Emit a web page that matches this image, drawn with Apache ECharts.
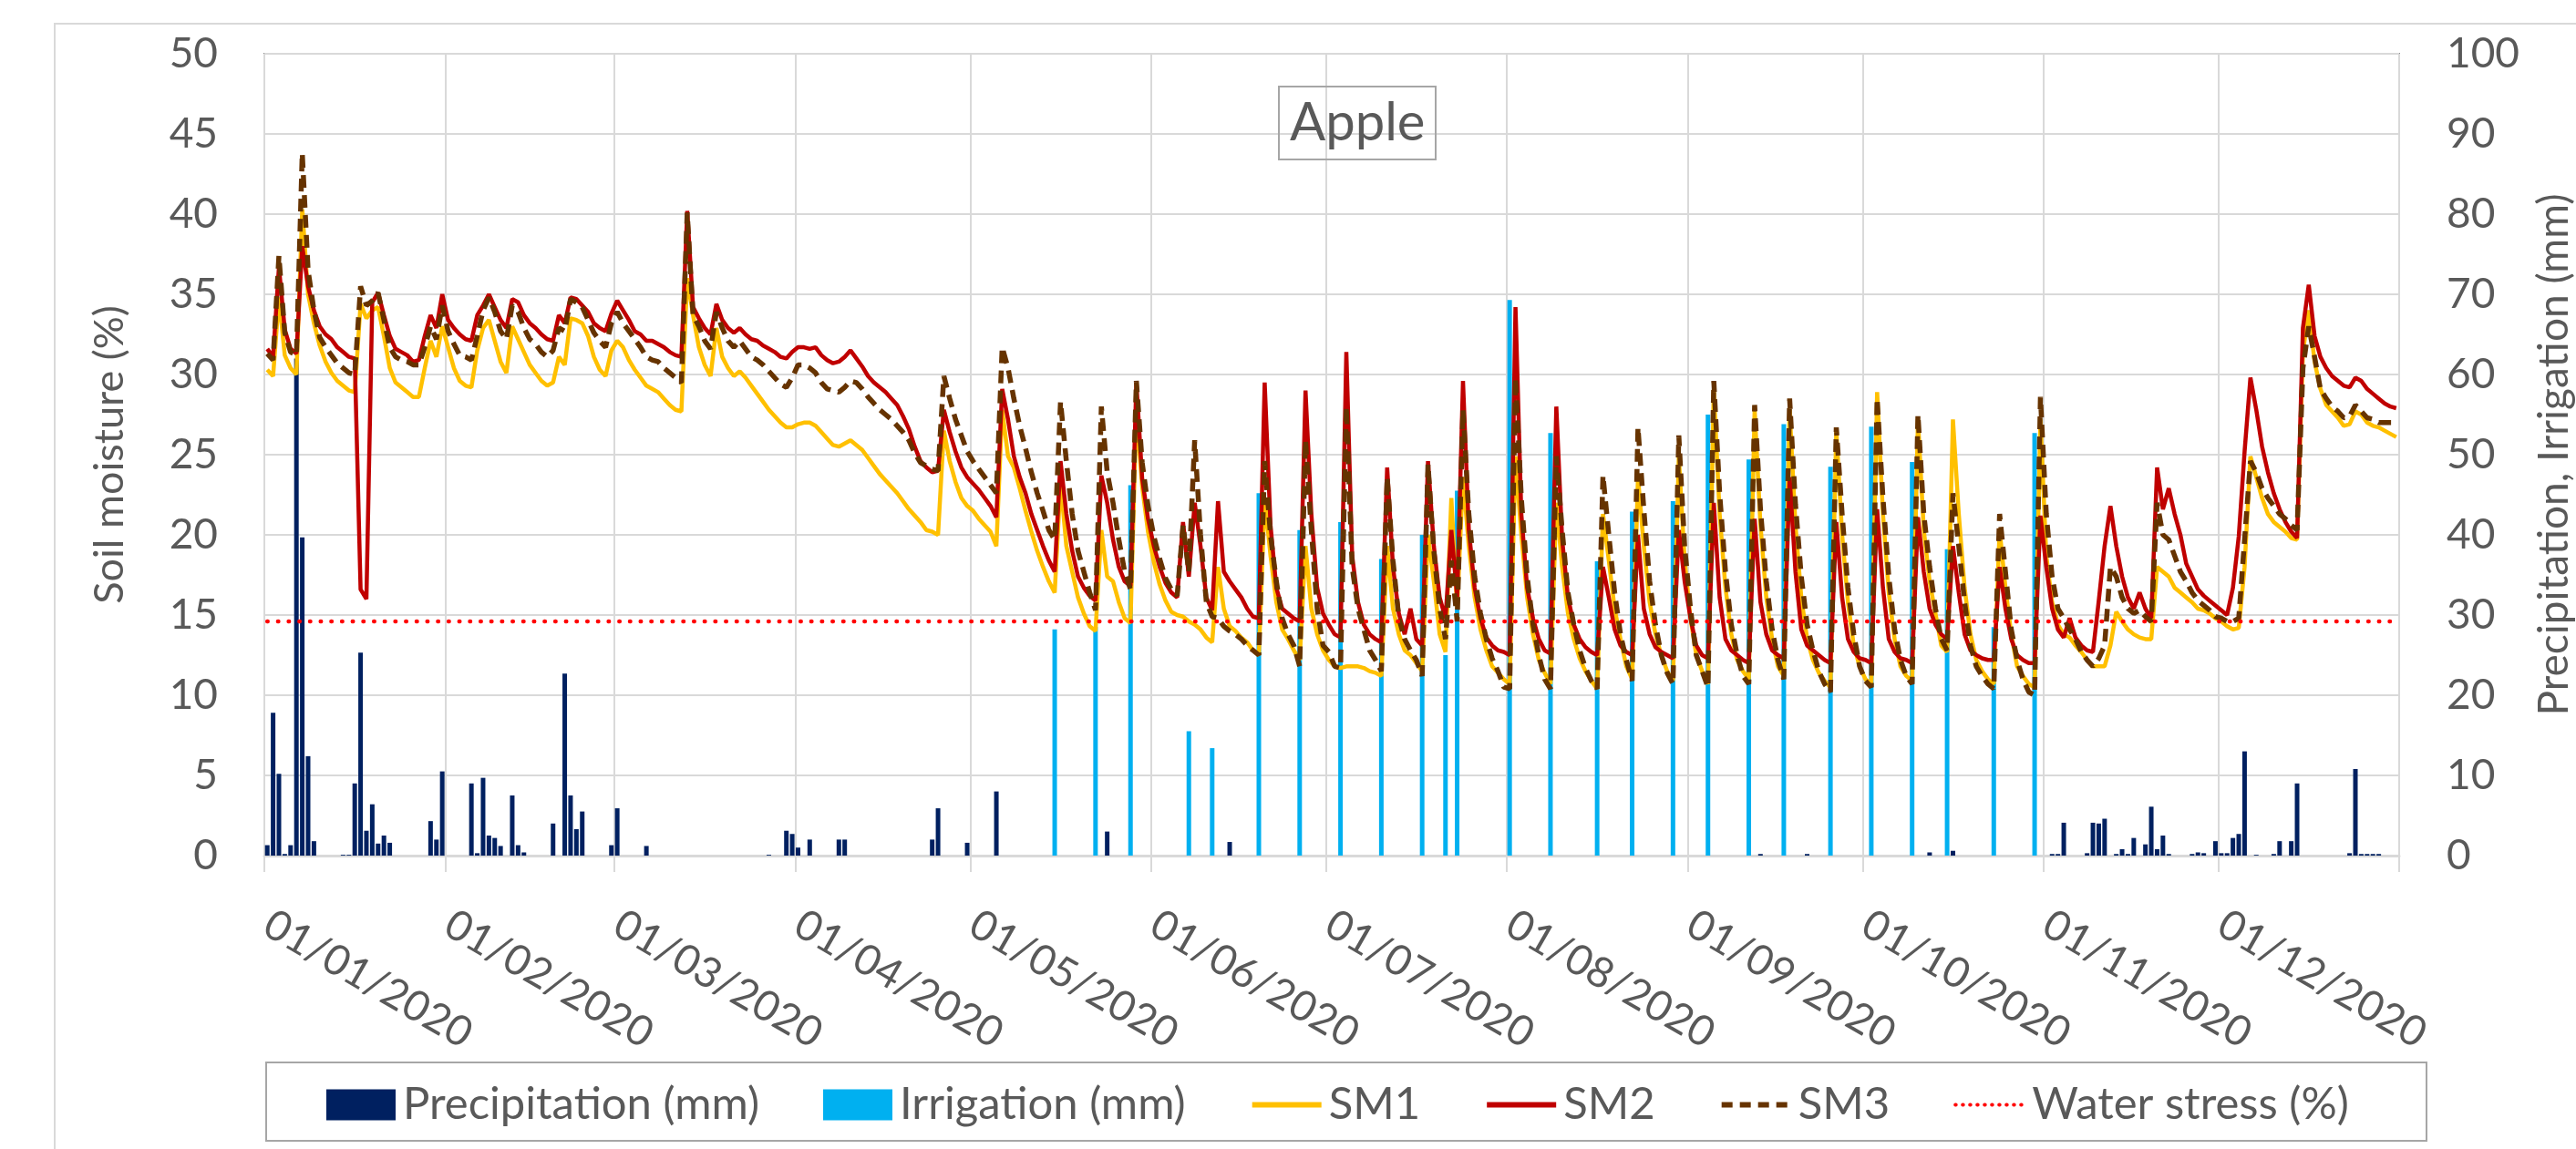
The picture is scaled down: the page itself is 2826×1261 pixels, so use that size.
<!DOCTYPE html>
<html lang="en">
<head>
    <meta charset="UTF-8">
    <script src="https://cdn.jsdelivr.net/npm/echarts@6/dist/echarts.min.js"></script>
    <style>html, body { margin: 0; background: #fff; }</style>
</head>
<body>
    <div id="chart" style="width: 2826px; height: 1261px;"></div>
    <script>
        // daily soil moisture (%), 01/01/2020 .. 31/12/2020 (366 days)
        var sm1 = [
            30.3, 29.9, 34.8, 31.2, 30.4, 30.0, 40.3, 35.0, 33.2, 31.8,
            30.8, 30.1, 29.6, 29.3, 29.0, 28.9, 34.4, 33.5, 34.0, 34.2,
            32.4, 30.4, 29.5, 29.2, 28.9, 28.6, 28.6, 30.4, 32.1, 31.1,
            33.0, 31.7, 30.4, 29.6, 29.3, 29.2, 31.5, 32.9, 33.4, 32.1,
            30.8, 30.1, 33.0, 32.2, 31.4, 30.6, 30.1, 29.6, 29.3, 29.5,
            31.1, 30.6, 33.5, 33.4, 33.2, 32.4, 31.1, 30.3, 29.9, 31.5,
            32.1, 31.7, 30.9, 30.3, 29.8, 29.3, 29.1, 28.9, 28.5, 28.1,
            27.8, 27.7, 36.0, 33.7, 31.7, 30.6, 29.9, 32.9, 31.1, 30.4,
            29.9, 30.2, 29.8, 29.3, 28.8, 28.3, 27.8, 27.4, 27.0, 26.7,
            26.7, 26.9, 27.0, 27.0, 26.8, 26.4, 26.0, 25.6, 25.5, 25.7,
            25.9, 25.6, 25.3, 24.8, 24.3, 23.8, 23.4, 23.0, 22.6, 22.1,
            21.6, 21.2, 20.8, 20.3, 20.2, 20.0, 26.5, 24.6, 23.3, 22.3,
            21.8, 21.5, 21.0, 20.6, 20.2, 19.3, 27.8, 24.9, 24.2, 22.9,
            21.5, 20.2, 19.0, 18.0, 17.1, 16.4, 23.3, 19.3, 17.7, 16.1,
            15.1, 14.3, 14.0, 20.3, 17.4, 17.1, 15.8, 14.8, 14.5, 27.8,
            23.0, 20.2, 18.3, 16.9, 15.9, 15.2, 15.0, 14.9, 14.6, 14.4,
            14.1, 13.6, 13.3, 18.0, 15.4, 14.3, 14.0, 13.6, 13.3, 12.8,
            12.5, 22.3, 18.7, 15.8, 14.1, 13.5, 12.8, 12.2, 19.3, 15.4,
            13.8, 12.8, 12.2, 11.8, 11.7, 11.8, 11.8, 11.8, 11.7, 11.5,
            11.4, 11.2, 19.3, 15.4, 13.8, 12.8, 12.5, 12.0, 11.5, 20.0,
            17.1, 13.8, 12.7, 22.3, 15.4, 23.6, 19.3, 16.1, 14.1, 12.8,
            11.8, 11.4, 11.0, 10.7, 24.9, 20.0, 16.1, 13.8, 12.2, 11.4,
            10.7, 22.0, 18.0, 15.1, 13.5, 12.3, 11.5, 10.9, 10.4, 21.3,
            18.4, 15.4, 13.5, 11.8, 11.0, 23.6, 19.3, 15.8, 13.8, 12.5,
            11.5, 10.9, 24.9, 18.4, 14.8, 12.5, 11.5, 10.7, 29.1, 21.3,
            16.7, 13.8, 12.2, 11.5, 11.0, 27.8, 20.6, 16.1, 13.5, 11.8,
            11.2, 27.8, 20.6, 16.1, 13.5, 12.2, 11.4, 10.9, 10.5, 26.5,
            20.0, 15.8, 13.1, 11.8, 11.0, 10.7, 28.9, 21.3, 16.4, 13.5,
            11.8, 11.2, 10.9, 27.2, 20.3, 17.1, 15.1, 13.1, 12.7, 27.2,
            21.3, 16.7, 13.8, 12.2, 11.5, 11.0, 10.7, 20.3, 16.7, 13.8,
            11.8, 11.2, 10.7, 10.5, 27.2, 18.7, 15.8, 14.4, 13.8, 13.6,
            13.1, 12.7, 12.2, 11.8, 11.8, 11.8, 13.1, 15.2, 14.6, 14.1,
            13.8, 13.6, 13.5, 13.5, 18.0, 17.7, 17.4, 16.7, 16.4, 16.1,
            15.8, 15.4, 15.3, 15.1, 14.8, 14.6, 14.3, 14.1, 14.2, 18.0,
            24.9, 23.6, 22.3, 21.3, 20.8, 20.5, 20.2, 19.8, 19.7, 31.4,
            34.0, 30.8, 29.1, 28.1, 27.7, 27.3, 26.8, 26.9, 27.7, 27.5,
            27.0, 26.8, 26.7, 26.5, 26.3, 26.1
        ];
        var sm2 = [
            31.6, 31.1, 36.7, 32.8, 31.6, 31.3, 38.0, 35.5, 34.0, 33.0,
            32.5, 32.2, 31.7, 31.4, 31.1, 31.0, 16.6, 16.0, 34.5, 35.1,
            33.7, 32.4, 31.6, 31.4, 31.2, 30.8, 30.9, 32.4, 33.7, 32.9,
            35.0, 33.4, 32.9, 32.5, 32.2, 32.1, 33.7, 34.3, 35.0, 34.2,
            33.4, 32.9, 34.7, 34.5, 33.7, 33.2, 32.9, 32.5, 32.2, 32.1,
            33.7, 33.2, 34.8, 34.7, 34.3, 33.9, 33.2, 32.9, 32.7, 33.8,
            34.6, 34.0, 33.4, 32.7, 32.5, 32.1, 32.1, 31.9, 31.7, 31.4,
            31.2, 31.1, 40.2, 34.2, 33.5, 32.9, 32.5, 34.4, 33.4, 32.9,
            32.6, 32.9, 32.5, 32.2, 32.1, 31.8, 31.6, 31.4, 31.1, 31.0,
            31.4, 31.7, 31.7, 31.6, 31.7, 31.2, 30.9, 30.7, 30.8, 31.1,
            31.5, 31.0, 30.5, 29.9, 29.5, 29.2, 28.9, 28.5, 28.1, 27.4,
            26.6, 25.5, 24.6, 24.2, 23.9, 24.0, 27.8, 26.4, 25.2, 24.2,
            23.6, 23.2, 22.8, 22.3, 21.8, 21.1, 29.1, 27.2, 24.9, 23.6,
            22.6, 21.3, 20.3, 19.3, 18.4, 17.7, 24.6, 21.3, 19.0, 17.4,
            16.7, 16.2, 15.9, 23.7, 22.0, 19.7, 18.0, 17.1, 16.8, 29.5,
            23.5, 21.0, 19.3, 18.0, 17.0, 16.4, 16.1, 20.8, 17.4, 22.0,
            19.3, 16.1, 15.3, 22.1, 17.7, 17.1, 16.6, 16.1, 15.4, 14.9,
            14.8, 29.5, 20.6, 16.7, 15.4, 15.1, 14.8, 14.6, 29.0, 21.3,
            16.7, 15.1, 14.4, 13.8, 13.6, 31.4, 18.7, 15.8, 14.4, 13.8,
            13.5, 13.3, 24.2, 18.0, 15.1, 13.8, 15.4, 13.5, 13.1, 24.6,
            19.3, 16.1, 14.8, 20.3, 16.1, 29.6, 20.3, 16.7, 14.8, 13.6,
            13.1, 12.8, 12.7, 12.5, 34.2, 21.3, 16.7, 14.8, 13.5, 12.8,
            12.6, 28.0, 19.7, 16.1, 14.4, 13.5, 13.0, 12.7, 12.5, 18.0,
            16.1, 14.1, 13.1, 12.7, 12.5, 20.0, 15.4, 13.8, 13.0, 12.7,
            12.5, 12.3, 20.3, 17.1, 14.8, 13.1, 12.5, 12.3, 22.0, 16.1,
            13.5, 12.8, 12.5, 12.2, 12.0, 21.0, 15.8, 13.8, 12.8, 12.5,
            12.3, 23.6, 17.7, 14.1, 13.1, 12.8, 12.5, 12.2, 12.0, 20.8,
            16.1, 13.5, 12.7, 12.3, 12.2, 12.0, 21.6, 16.7, 13.5, 12.7,
            12.3, 12.2, 12.0, 21.1, 17.7, 15.4, 14.4, 13.8, 13.5, 19.3,
            16.4, 13.8, 12.8, 12.5, 12.3, 12.2, 12.2, 18.0, 15.4, 13.5,
            12.5, 12.2, 12.0, 12.0, 21.2, 18.0, 15.4, 14.1, 13.6, 14.8,
            13.6, 13.1, 12.8, 12.7, 15.9, 19.3, 21.8, 19.3, 17.4, 16.1,
            15.4, 16.4, 15.4, 14.8, 24.2, 21.6, 22.9, 21.3, 20.0, 18.2,
            17.4, 16.6, 16.2, 15.9, 15.6, 15.3, 15.0, 16.7, 19.9, 25.2,
            29.8, 27.8, 25.5, 23.9, 22.6, 21.6, 20.8, 20.2, 19.8, 32.9,
            35.6, 32.4, 31.1, 30.4, 29.9, 29.6, 29.3, 29.2, 29.8, 29.6,
            29.1, 28.8, 28.5, 28.2, 28.0, 27.9
        ];
        var sm3 = [
            31.3, 30.9, 37.4, 32.6, 31.4, 31.2, 43.8, 36.5, 34.0, 32.3,
            31.7, 31.2, 30.7, 30.4, 30.1, 30.0, 35.5, 34.3, 34.6, 35.1,
            33.4, 31.7, 31.1, 30.9, 30.8, 30.6, 30.6, 31.7, 33.0, 32.2,
            34.3, 32.7, 31.9, 31.2, 31.1, 30.9, 32.4, 34.0, 34.8, 33.9,
            32.7, 32.2, 34.3, 33.9, 32.9, 32.2, 31.9, 31.4, 31.1, 31.5,
            32.9, 32.7, 34.7, 34.5, 34.2, 33.4, 32.6, 32.1, 31.7, 33.2,
            33.9, 33.2, 32.7, 32.2, 31.7, 31.1, 30.9, 30.8, 30.4, 30.1,
            29.8, 29.5, 40.1, 33.7, 33.0, 32.1, 31.6, 33.9, 32.9, 32.1,
            31.7, 32.1, 31.6, 31.1, 30.9, 30.6, 30.2, 29.8, 29.4, 29.2,
            29.8, 30.6, 30.6, 30.4, 30.1, 29.5, 29.1, 29.0, 28.9, 29.2,
            29.6, 29.5, 29.1, 28.6, 28.2, 27.8, 27.5, 27.2, 26.8, 26.4,
            25.9, 25.1, 24.5, 24.3, 24.1, 24.0, 29.9, 28.5, 27.2, 26.2,
            25.2, 24.6, 24.1, 23.6, 23.1, 22.6, 31.7, 30.4, 28.5, 26.8,
            25.4, 23.9, 22.6, 21.5, 20.3, 19.7, 28.3, 24.6, 21.3, 19.0,
            17.7, 16.4, 15.3, 28.0, 23.9, 22.0, 19.7, 17.7, 16.6, 29.6,
            24.5, 21.8, 19.9, 18.5, 17.3, 16.6, 16.2, 20.6, 17.7, 25.9,
            20.0, 15.8, 14.9, 14.8, 14.3, 14.0, 13.8, 13.5, 13.1, 12.8,
            12.5, 24.6, 20.0, 17.1, 14.8, 13.8, 13.1, 11.8, 25.9, 20.3,
            15.4, 13.1, 12.7, 11.8, 11.7, 28.0, 18.0, 15.4, 14.1, 12.8,
            12.2, 11.5, 23.6, 18.4, 14.8, 13.5, 12.8, 12.2, 11.2, 24.4,
            19.0, 15.4, 13.5, 18.4, 14.6, 27.8, 21.3, 17.4, 15.1, 13.5,
            12.3, 11.5, 10.5, 10.4, 29.8, 22.3, 17.4, 14.4, 12.5, 11.0,
            10.4, 24.9, 20.3, 16.4, 14.4, 12.8, 11.7, 10.9, 10.4, 23.7,
            20.0, 16.4, 13.8, 12.2, 10.9, 26.7, 21.6, 17.1, 14.4, 12.5,
            11.4, 10.7, 26.2, 19.3, 15.4, 12.5, 11.5, 10.5, 29.6, 22.6,
            17.7, 14.4, 12.5, 11.2, 10.7, 28.1, 21.6, 17.1, 14.1, 12.2,
            11.0, 28.5, 21.9, 17.4, 14.4, 12.8, 11.5, 10.7, 10.2, 26.7,
            21.3, 16.7, 13.8, 11.8, 10.9, 10.5, 28.5, 22.3, 17.4, 14.1,
            12.2, 11.2, 10.7, 27.5, 21.3, 18.0, 15.4, 13.5, 12.8, 22.6,
            19.3, 15.8, 13.1, 11.8, 11.2, 10.7, 10.4, 21.3, 17.7, 14.1,
            12.2, 11.0, 10.2, 10.0, 28.6, 21.3, 17.4, 15.4, 14.8, 14.1,
            13.5, 12.7, 12.2, 11.8, 12.3, 13.1, 18.0, 17.4, 16.1, 15.4,
            15.1, 15.3, 14.9, 14.6, 22.0, 20.0, 19.7, 18.7, 17.7, 17.1,
            16.4, 15.9, 15.6, 15.3, 14.9, 14.8, 14.6, 14.6, 14.8, 19.7,
            24.6, 23.9, 22.9, 22.3, 21.8, 21.3, 21.0, 20.6, 20.3, 30.4,
            33.0, 31.1, 29.1, 28.5, 28.0, 27.7, 27.3, 27.4, 28.1, 27.7,
            27.3, 27.2, 27.0, 27.0, 27.0, 27.0
        ];

        // [day of year (0 = 01/01), mm]
        var precipitation = [
            [0, 1.3], [1, 17.8], [2, 10.2], [3, 0.2], [4, 1.3], [5, 62], [6, 39.7], [7, 12.4], [8, 1.8],
            [13, 0.1], [14, 0.1], [15, 9.0], [16, 25.3], [17, 3.1], [18, 6.4], [19, 1.5], [20, 2.5], [21, 1.6],
            [28, 4.3], [29, 2.0], [30, 10.5], [35, 9.0], [36, 0.3], [37, 9.7], [38, 2.5], [39, 2.2], [40, 1.2],
            [42, 7.5], [43, 1.3], [44, 0.4], [49, 4.0], [51, 22.7], [52, 7.5], [53, 3.3], [54, 5.5],
            [59, 1.3], [60, 5.9], [65, 1.2], [86, 0.1], [89, 3.1], [90, 2.7], [91, 1.0], [93, 2.0],
            [98, 2.0], [99, 2.0], [114, 2.0], [115, 5.9], [120, 1.6], [125, 8.0], [144, 3.0], [165, 1.7],
            [256, 0.2], [264, 0.2], [285, 0.4], [289, 0.6],
            [306, 0.2], [307, 0.2], [308, 4.1], [312, 0.3], [313, 4.1], [314, 4.0], [315, 4.6], [317, 0.2],
            [318, 0.8], [319, 0.2], [320, 2.2], [322, 1.4], [323, 6.1], [324, 0.8], [325, 2.5], [326, 0.2],
            [330, 0.2], [331, 0.4], [332, 0.3], [334, 1.8], [335, 0.3], [336, 0.3], [337, 2.2], [338, 2.7],
            [339, 13.0], [341, 0.1], [344, 0.2], [345, 1.8], [347, 1.8], [348, 9.0], [357, 0.3], [358, 10.8],
            [359, 0.2], [360, 0.2], [361, 0.2], [362, 0.2]
        ];
        var irrigation = [
            [135, 28.2], [142, 28.5], [148, 46.2], [158, 15.5], [162, 13.4], [170, 45.2], [177, 40.6],
            [184, 41.6], [191, 37.0], [198, 40.0], [202, 25.0], [204, 45.5], [213, 69.3], [220, 52.7],
            [228, 36.7], [234, 42.9], [241, 44.2], [247, 55.0], [254, 49.4], [260, 53.8], [268, 48.5],
            [275, 53.5], [282, 49.1], [288, 38.2], [296, 28.5], [303, 52.7]
        ];
        var waterStress = 14.6;

        var names = ['Precipitation (mm)', 'Irrigation (mm)', 'SM1', 'SM2', 'SM3', 'Water stress (%)'];

        function pad(n) { return n < 10 ? '0' + n : '' + n; }
        var days = [];
        for (var i = 0; i < 366; i++) {
            var dt = new Date(2020, 0, 1 + i);
            days.push(pad(dt.getDate()) + '/' + pad(dt.getMonth() + 1) + '/' + dt.getFullYear());
        }
        function monthStart(idx, val) { return val.slice(0, 2) === '01'; }

        var font = 'Lato';
        var grey = '#595959';
        var gridLine = '#d9d9d9';
        // line entries in the legend: hide the marker, keep the line
        var noMarker = { opacity: 0 };

        var myChart = echarts.init(document.getElementById('chart'));
        var option = {
            animation: false,
            backgroundColor: '#ffffff',
            textStyle: { fontFamily: font },
            title: {
                text: 'Apple',
                left: 1403,
                top: 95,
                padding: [10, 12],
                borderColor: '#a6a6a6',
                borderWidth: 2,
                textStyle: { fontFamily: font, fontSize: 58, lineHeight: 60, fontWeight: 'normal', color: grey }
            },
            legend: {
                data: [
                    { name: names[0], icon: 'rect' },
                    { name: names[1], icon: 'rect' },
                    { name: names[2], itemStyle: noMarker, lineStyle: { width: 6 } },
                    { name: names[3], itemStyle: noMarker, lineStyle: { width: 6 } },
                    { name: names[4], itemStyle: noMarker, lineStyle: { width: 6, type: [12, 8] } },
                    { name: names[5], itemStyle: noMarker, lineStyle: { width: 4, type: [0.5, 7.5], cap: 'round' } }
                ],
                left: 358,
                top: 1188,
                padding: 0,
                itemWidth: 76,
                itemHeight: 34,
                itemGap: 70,
                textStyle: { fontFamily: font, fontSize: 49, lineHeight: 40, color: grey, padding: [0, 0, 0, 3] }
            },
            grid: {
                left: 290,
                right: 194,
                top: 59,
                bottom: 322,
                containLabel: false,
                outerBoundsMode: 'none',
                show: true,
                borderColor: '#8c8c8c',
                borderWidth: 2
            },
            xAxis: {
                type: 'category',
                data: days,
                boundaryGap: true,
                axisLine: { show: true, lineStyle: { color: gridLine, width: 3 } },
                axisTick: { show: true, interval: monthStart, length: 18, lineStyle: { color: gridLine, width: 2 } },
                splitLine: { show: true, interval: monthStart, lineStyle: { color: gridLine, width: 2 } },
                axisLabel: {
                    interval: monthStart,
                    rotate: -30,
                    margin: 72,
                    fontFamily: font,
                    fontSize: 46,
                    color: grey
                }
            },
            yAxis: [{
                type: 'value',
                min: 0,
                max: 50,
                interval: 5,
                name: 'Soil moisture (%)',
                nameLocation: 'middle',
                nameGap: 147,
                nameRotate: 90,
                nameMoveOverlap: false,
                nameTextStyle: { fontFamily: font, fontSize: 45, color: grey },
                axisLine: { show: false },
                axisTick: { show: false },
                splitLine: { show: true, lineStyle: { color: gridLine, width: 2 } },
                axisLabel: { margin: 51, fontFamily: font, fontSize: 46, color: grey }
            }, {
                type: 'value',
                min: 0,
                max: 100,
                interval: 10,
                position: 'right',
                name: 'Precipitation, Irrigation (mm)',
                nameLocation: 'middle',
                nameGap: 147,
                nameRotate: 90,
                nameMoveOverlap: false,
                nameTextStyle: { fontFamily: font, fontSize: 46, color: grey },
                axisLine: { show: false },
                axisTick: { show: false },
                splitLine: { show: false },
                axisLabel: { margin: 52, fontFamily: font, fontSize: 46, color: grey }
            }],
            series: [{
                name: names[0],
                type: 'bar',
                yAxisIndex: 1,
                barWidth: 5,
                barGap: '-100%',
                itemStyle: { color: '#002060' },
                data: precipitation
            }, {
                name: names[1],
                type: 'bar',
                yAxisIndex: 1,
                barWidth: 5,
                barGap: '-100%',
                itemStyle: { color: '#00b0f0' },
                data: irrigation
            }, {
                name: names[2],
                type: 'line',
                symbol: 'none',
                itemStyle: { color: '#ffc000' },
                lineStyle: { color: '#ffc000', width: 4.5 },
                data: sm1
            }, {
                name: names[3],
                type: 'line',
                symbol: 'none',
                itemStyle: { color: '#c00000' },
                lineStyle: { color: '#c00000', width: 4.5 },
                data: sm2
            }, {
                name: names[4],
                type: 'line',
                symbol: 'none',
                itemStyle: { color: '#663300' },
                lineStyle: { color: '#663300', width: 5.5, type: [14, 8] },
                data: sm3
            }, {
                name: names[5],
                type: 'line',
                symbol: 'none',
                itemStyle: { color: '#ff0000' },
                lineStyle: { color: '#ff0000', width: 4.5, type: [0.5, 11.2], cap: 'round' },
                data: [[0, waterStress], [days.length - 1, waterStress]]
            }],
            graphic: [{
                type: 'rect',
                z: -10,
                shape: { x: 60, y: 26, width: 3000, height: 2000 },
                style: { fill: null, stroke: '#d9d9d9', lineWidth: 2 }
            }, {
                type: 'rect',
                z: -5,
                shape: { x: 292, y: 1166, width: 2370, height: 86 },
                style: { fill: null, stroke: '#a6a6a6', lineWidth: 2 }
            }]
        };
        myChart.setOption(option);
    </script>
</body>
</html>
